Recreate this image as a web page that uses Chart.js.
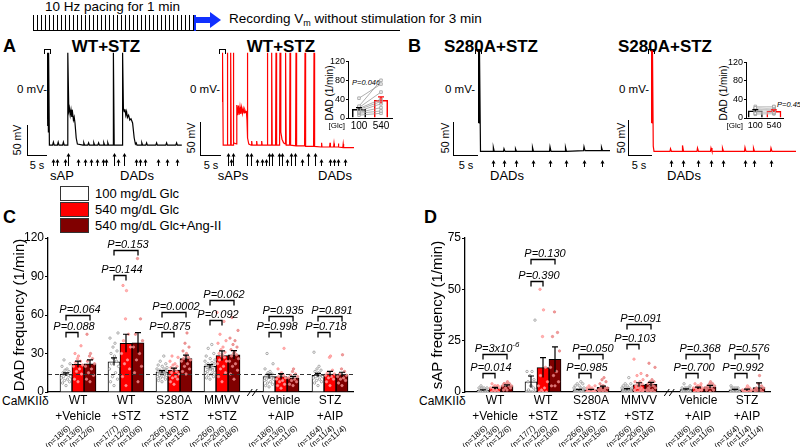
<!DOCTYPE html>
<html lang="en">
<head>
<meta charset="UTF-8">
<title>CaMKIIδ DAD and sAP frequency</title>
<script src="https://cdn.jsdelivr.net/npm/chart.js"></script>
<style>
  body { margin: 0; background: #fff; font-family: "Liberation Sans", Arial, sans-serif; }
  #fig { position: relative; width: 800px; height: 447px; overflow: hidden; background: #fff; }
  canvas { position: absolute; }
  .t { position: absolute; white-space: nowrap; line-height: 1; color: #000; transform: translate(-50%, -50%); }
  .l { position: absolute; white-space: nowrap; line-height: 1; color: #000; transform: translate(0, -50%); }
  .v { position: absolute; white-space: nowrap; line-height: 1; color: #000; transform: translate(-50%, -50%) rotate(-90deg); }
  .b { font-weight: bold; font-size: 17px; }
  .ln { position: absolute; background: #000; }
  .stim { position: absolute; width: 5px; height: 4px; border: 1px solid #000; border-bottom: none; }
  .box { position: absolute; left: 60px; width: 27px; height: 13px; border: 1px solid #333; }
</style>
</head>
<body>
<div id="fig">
  <!-- protocol diagram -->
  <div class="l" style="left:45px;top:7px;font-size:13.5px">10 Hz pacing for 1 min</div>
  <div class="ln" style="left:33px;top:15px;width:162px;height:15px;background:repeating-linear-gradient(to right,#000 0 1px,transparent 1px 4px)"></div>
  <div class="ln" style="left:33px;top:30px;width:367px;height:1px"></div>
  <div class="ln" style="left:194px;top:15px;width:2px;height:16px;background:#1030ff"></div>
  <div class="ln" style="left:195px;top:17px;width:16px;height:6px;background:#1030ff"></div>
  <div style="position:absolute;left:210px;top:12px;width:0;height:0;border-left:11px solid #1030ff;border-top:8px solid transparent;border-bottom:8px solid transparent"></div>
  <div class="l" style="left:229px;top:20px;font-size:13.5px">Recording V<sub style="font-size:9px">m</sub> without stimulation for 3 min</div>

  <!-- panel A / B headers -->
  <div class="l b" style="left:3px;top:46px;font-size:18px">A</div>
  <div class="t b" style="left:106px;top:46px">WT+STZ</div>
  <div class="t b" style="left:281px;top:46px">WT+STZ</div>
  <div class="l b" style="left:408px;top:46px;font-size:18px">B</div>
  <div class="t b" style="left:491px;top:46px">S280A+STZ</div>
  <div class="t b" style="left:665px;top:46px">S280A+STZ</div>

  <div class="stim" style="left:44px;top:49px"></div>
  <div class="stim" style="left:219px;top:49px"></div>
  <div class="stim" style="left:475px;top:49px"></div>
  <div class="stim" style="left:648px;top:49px"></div>

  <div class="l" style="left:17px;top:90px;font-size:11.5px">0 mV-</div>
  <div class="l" style="left:190px;top:90px;font-size:11.5px">0 mV-</div>
  <div class="l" style="left:445px;top:90px;font-size:11.5px">0 mV-</div>
  <div class="l" style="left:619px;top:90px;font-size:11.5px">0 mV-</div>

  <!-- scale bars -->
  <div class="ln" style="left:27px;top:125px;width:1px;height:30px"></div>
  <div class="ln" style="left:27px;top:155px;width:20px;height:1px"></div>
  <div class="ln" style="left:200px;top:122px;width:1px;height:33px"></div>
  <div class="ln" style="left:200px;top:155px;width:21px;height:1px"></div>
  <div class="ln" style="left:453px;top:122px;width:1px;height:33px"></div>
  <div class="ln" style="left:453px;top:155px;width:25px;height:1px"></div>
  <div class="ln" style="left:628px;top:120px;width:1px;height:35px"></div>
  <div class="ln" style="left:628px;top:155px;width:24px;height:1px"></div>
  <div class="v" style="left:17px;top:140px;font-size:10.5px">50 mV</div>
  <div class="v" style="left:191px;top:138px;font-size:10.5px">50 mV</div>
  <div class="v" style="left:445px;top:138px;font-size:10.5px">50 mV</div>
  <div class="v" style="left:621px;top:138px;font-size:10.5px">50 mV</div>
  <div class="t" style="left:37px;top:165px;font-size:11px">5 s</div>
  <div class="t" style="left:211px;top:165px;font-size:11px">5 s</div>
  <div class="t" style="left:466px;top:165px;font-size:11px">5 s</div>
  <div class="t" style="left:639px;top:165px;font-size:11px">5 s</div>

  <div class="t" style="left:62px;top:175px;font-size:13px">sAP</div>
  <div class="t" style="left:137px;top:175px;font-size:13px">DADs</div>
  <div class="t" style="left:233px;top:175px;font-size:13px">sAPs</div>
  <div class="t" style="left:335px;top:175px;font-size:13px">DADs</div>
  <div class="t" style="left:507px;top:175px;font-size:13px">DADs</div>
  <div class="t" style="left:684px;top:175px;font-size:13px">DADs</div>

  <!-- inset labels -->
  <div class="v" style="left:330px;top:93px;font-size:10px">DAD (1/min)</div>
  <div class="l" style="left:352px;top:83px;font-size:7.5px;font-style:italic">P=0.046</div>
  <div class="v" style="left:724px;top:93px;font-size:10px">DAD (1/min)</div>
  <div class="l" style="left:777px;top:105px;font-size:7.5px;font-style:italic">P=0.459</div>

  <!-- panel C / D headers and legend -->
  <div class="l b" style="left:3px;top:217px;font-size:18px">C</div>
  <div class="l b" style="left:424px;top:217px;font-size:18px">D</div>
  <div class="box" style="top:186px;background:#fff"></div>
  <div class="box" style="top:202px;background:#ff0000"></div>
  <div class="box" style="top:218px;background:#800000"></div>
  <div class="l" style="left:95px;top:193px;font-size:13px" id="lg0"></div>
  <div class="l" style="left:95px;top:209px;font-size:13px" id="lg1"></div>
  <div class="l" style="left:95px;top:225px;font-size:13px" id="lg2"></div>
  <div class="l" style="left:2px;top:401px;font-size:12px">CaMKIIδ</div>
  <div class="l" style="left:419px;top:401px;font-size:12px">CaMKIIδ</div>

  <canvas id="trA1" width="135" height="122" style="left:47px;top:50px"></canvas>
  <canvas id="trA2" width="132" height="122" style="left:222px;top:50px"></canvas>
  <canvas id="trB1" width="132" height="122" style="left:478px;top:50px"></canvas>
  <canvas id="trB2" width="145" height="122" style="left:651px;top:50px"></canvas>
  <canvas id="inA" width="80" height="78" style="left:318px;top:55px"></canvas>
  <canvas id="inB" width="72" height="77" style="left:716px;top:56px"></canvas>
  <canvas id="chC" width="360" height="222" style="left:0px;top:225px"></canvas>
  <canvas id="chD" width="360" height="222" style="left:417px;top:225px"></canvas>
</div>

<script>
// ---------- traces (time in s, Vm in mV) ----------
const traceA1 = [[0,62],[0.15,-60],[0.2,62],[0.35,-70],[0.4,62],[0.6,-92],
  [1.4,-92],[1.6,-87],[1.8,-92],[2.6,-92],[2.8,-87],[3.0,-92],[3.9,-92],[4.1,-87],[4.3,-92],
  [5.1,-92],[5.2,62],[5.45,-35],[5.6,-30],[5.8,-42],[6.0,-33],[6.2,-45],[6.4,-38],[6.6,-50],[6.8,-45],[7.0,-55],[7.3,-80],[7.6,-90],
  [9.0,-92],[9.2,-88],[9.4,-92],[10.2,-92],[10.4,-88],[10.6,-92],[11.5,-92],[11.7,-88],[11.9,-92],[12.7,-92],[12.9,-88],[13.1,-92],
  [14.0,-92],[14.2,-88],[14.4,-92],[15.0,-92],[15.2,-88],[15.4,-92],
  [16.5,-92],[16.6,62],[16.8,-92],
  [18.8,-92],[18.9,62],[19.1,-30],[19.3,-36],[19.5,-32],[19.7,-42],[19.9,-36],[20.1,-46],[20.4,-42],[20.7,-50],[21.0,-48],[21.4,-55],[21.8,-80],[22.1,-90],
  [22.3,-88],[22.5,-92],[23.5,-92],[23.7,-88],[23.9,-92],[24.7,-92],[24.9,-88],[25.1,-92],[27.2,-92],[27.4,-88],[27.6,-92],
  [29.7,-92],[29.9,-88],[30.1,-92],[32.2,-92],[32.4,-88],[32.6,-92],[33.7,-92]];
const arrowsA1 = [1.6, 2.6, 4.5, 7.8, 9.5, 10.9, 12.6, 14.1, 14.8, 17.8, 22.3, 23.3, 24.5, 27.8, 30.1, 32.4];
const tallA1 = [5.2, 16.7, 19.2];

const traceA2 = [[0,62],[0.1,-20],[0.15,62],[0.3,-92],
  [1.25,-92],[1.33,62],[1.45,-92],[2.1,-92],[2.17,62],[2.3,-92],[2.75,-92],[2.83,62],[2.95,-88],
  [3.6,-90],[3.7,-25],[3.9,-42],[4.1,-26],[4.3,-41],[4.5,-28],[4.7,-40],[4.9,-29],[5.1,-39],[5.3,-31],[5.5,-38],[5.7,-33],[5.9,-37],[6.1,-36],[6.25,-50],[6.33,62],[6.45,-80],[6.7,-90],
  [7.3,-92],[7.42,-85],[7.55,-92],[8.55,-92],[8.67,-85],[8.8,-92],[9.8,-92],[9.92,-85],[10.05,-92],
  [11.25,-92],[11.33,62],[11.45,-92],[12.35,-92],[12.42,62],[12.55,-92],[13.4,-92],[13.5,62],[13.65,-92],
  [14.4,-92],[14.5,62],[14.7,-70],[15.0,-82],[15.4,-88],[15.8,-90],[15.9,62],[16.05,-92],
  [16.9,-92],[17.0,62],[17.15,-92],[18.4,-93],[18.5,62],[18.65,-93],[20.65,-93],[20.75,62],[20.9,-94],
  [22.9,-94],[23.0,62],[23.15,-94],[24.8,-95],[24.9,-88],[25.0,-95],[26.9,-95],[27.0,-88],[27.1,-95],
  [27.9,-95],[28.0,-89],[28.1,-95],[29.0,-95],[29.1,-89],[29.2,-95],[30.2,-96],[30.3,-90],[30.4,-96],[33.0,-96]];
const arrowsA2 = [2.2, 8.7, 9.9, 11.0, 16.2, 19.9, 24.7, 27.0, 28.0, 29.1, 30.8];
const tallA2 = [1.6, 2.8, 6.2, 7.2, 11.8, 12.4, 14.3, 14.9, 17.2, 18.3, 21.6, 23.3];

const traceB1 = [[0,60],[0.1,-50],[0.15,60],[0.25,-50],[0.3,60],[0.5,-93],
  [3.0,-93],[3.07,-87],[3.25,-93],[5.1,-93],[5.2,-89],[5.4,-93],[7.4,-93],[7.5,-89],[7.7,-93],
  [10.8,-93],[10.9,-87],[11.1,-93],[14.3,-93],[14.4,-86],[14.6,-93],[17.4,-93],[17.5,-87],[17.7,-93],
  [21.1,-92],[21.2,-86],[21.4,-92],[24.6,-92],[24.7,-87],[24.9,-92],[26.4,-92]];
const arrowsB1 = [3.07, 5.2, 7.5, 10.9, 14.4, 17.5, 21.2, 24.7];

const traceB2 = [[0,60],[0.1,-50],[0.15,60],[0.25,-50],[0.3,60],[0.45,-85],[0.6,-93],
  [3.8,-93],[3.9,-89],[4.1,-93],[6.2,-93],[6.3,-84],[6.5,-93],[9.2,-93],[9.3,-88],[9.5,-93],
  [11.9,-93],[12.0,-88],[12.2,-93],[14.2,-93],[14.3,-88],[14.5,-93],[18.7,-93],[18.8,-87],[19.0,-93],
  [20.4,-93],[20.5,-88],[20.7,-93],[23.9,-93],[24.0,-88],[24.2,-93],[29.0,-93]];
const arrowsB2 = [3.9, 6.3, 9.3, 12.0, 14.3, 18.8, 20.5, 24.0];

// ---------- insets: DAD (1/min) at 100 vs 540 mg/dL Glc ----------
const glcLabels = ['100', '540'];
const insetAMeans = [19, 38];
const insetASem = [3, 7];
const insetAPairs = [[42,72],[25,80],[22,55],[20,40],[18,35],[15,30],[12,22],[10,15],[6,10]];
const insetBMeans = [16, 15];
const insetBSem = [2, 2.5];
const insetBPairs = [[22,25],[20,18],[18,22],[25,24],[10,12],[12,10],[16,20],[8,9],[14,16],[20,15]];

// ---------- panels C and D ----------
const condLabels = ['100 mg/dL Glc', '540 mg/dL Glc', '540 mg/dL Glc+Ang-II'];
const groupLabels = [['WT','+Vehicle'],['WT','+STZ'],['S280A','+STZ'],['MMVV','+STZ'],['Vehicle','+AIP'],['STZ','+AIP']];
const nLabels = [['n=18/6','n=13/6','n=12/6'],['n=17/7','n=12/6','n=10/6'],['n=26/6','n=18/6','n=15/6'],
                 ['n=26/6','n=20/6','n=18/6'],['n=18/6','n=13/6','n=11/6'],['n=16/4','n=11/4','n=11/4']];

const dadMean = [[13.7,23.6,15.6,20.0,12.0,13.0],[21.6,38.0,17.0,28.3,12.0,14.0],[22.0,38.4,26.0,29.0,11.0,13.5]];
const dadSem  = [[1.2,3.0,1.0,1.4,1.7,1.5],[2.4,7.0,1.6,3.8,2.3,2.0],[3.0,7.8,2.8,3.3,1.1,1.9]];
const dad100 = [[5,7,8,9,10,11,12,12,13,14,14,15,16,17,18,20,22,25],
  [5,8,10,12,15,18,20,22,24,26,28,30,32,35,38,42,46],
  [8,9,10,11,12,12,13,13,14,14,15,15,15,16,16,16,17,17,18,18,19,20,21,22,24,28],
  [10,11,12,13,14,15,15,16,17,18,18,19,19,20,20,21,22,22,23,24,25,26,28,30,34,37],
  [4,5,6,7,8,9,10,10,11,12,12,13,14,15,16,18,22,30],
  [5,7,8,9,10,11,12,12,13,14,15,16,17,18,20,31]];
const dad540 = [[8,10,14,16,18,20,21,23,24,26,28,30,36],
  [5,12,18,22,25,30,35,40,45,57,79,83],
  [6,8,10,11,12,13,14,15,16,17,18,19,20,21,22,24,27,28],
  [8,12,15,18,20,22,24,25,27,28,29,30,31,33,35,38,40,45,55,62],
  [3,5,6,8,9,10,11,12,13,14,15,18,34],
  [5,8,10,11,12,13,14,15,17,27,28]];
const dadAng = [[8,10,13,15,18,20,22,24,26,28,30,45],
  [8,15,20,25,30,35,40,45,57,104],
  [14,16,18,20,22,24,25,26,27,28,30,32,35,38,46],
  [10,14,17,20,22,24,26,28,29,30,31,33,35,37,40,42,48,58],
  [5,6,8,9,10,11,12,13,14,16,18],
  [5,7,9,10,11,12,13,14,16,18,29]];
const dadInnerP = ['P=0.088','P=0.144','P=0.875','P=0.092','P=0.998','P=0.718'];
const dadOuterP = ['P=0.064','P=0.153','P=0.0002','P=0.062','P=0.935','P=0.891'];
const dadInnerY = [47, 91, 47, 56, 47, 47];
const dadOuterY = [60, 111, 62, 72, 59, 59];
const dadRefLine = 14;

const sapMean = [[0.8,5.0,1.0,1.2,1.2,1.0],[1.8,11.9,1.0,3.5,2.0,1.0],[3.0,15.9,2.3,3.7,2.5,2.2]];
const sapSem  = [[0.3,2.8,0.3,0.4,0.3,0.3],[0.5,4.8,0.3,1.0,0.4,0.4],[0.5,6.1,0.6,1.0,0.7,2.2]];
const sap100 = [[0,0,0,0,0,0,0,0,0,0,1,1,1,2,2,2,2,3],
  [0,0,0,0,0,0,1,1,2,3,3,5,6,8,10,10,35],
  [0,0,0,0,0,0,0,0,0,0,0,0,0,0,1,1,1,1,2,2,2,3,3,4,4,5],
  [0,0,0,0,0,0,0,0,0,0,0,0,0,1,1,1,1,2,2,2,2,3,3,4,4,7],
  [0,0,0,0,0,0,0,0,1,1,1,1,2,2,2,2,3,4],
  [0,0,0,0,0,0,0,1,1,1,1,2,2,2,2,3]];
const sap540 = [[0,0,0,1,1,2,2,2,3,3,3,4,3],
  [0,0,0,1,2,3,5,8,12,27,40,50],
  [0,0,0,0,0,0,0,0,0,1,1,1,1,2,2,2,3,3],
  [0,0,0,0,1,1,1,2,2,2,3,3,4,4,5,5,6,8,9,16],
  [0,0,1,1,1,2,2,2,3,3,3,4,4],
  [0,0,0,0,1,1,1,1,2,2,3]];
const sapAng = [[1,1,2,2,3,3,3,4,4,4,5,4],
  [3,3,5,8,10,12,20,27,29,39],
  [0,0,0,1,1,1,2,2,2,3,3,4,5,6,7],
  [0,0,0,1,1,1,2,2,3,3,4,4,5,5,6,8,12,14],
  [0,1,1,2,2,2,3,3,4,4,5],
  [0,0,0,1,1,1,2,2,3,4,8]];
const sapInnerP = ['P=0.014','P=0.390','P=0.985','P=0.103','P=0.700','P=0.992'];
const sapOuterP = ['P=3x10^-6','P=0.130','P=0.050','P=0.091','P=0.368','P=0.576'];
const sapInnerY = [9.4, 54, 9.4, 23.6, 9.4, 9.4];
const sapOuterY = [18.7, 65, 18.7, 33, 18.7, 18.7];

// layout of the grouped bars (x units: one group = 48 px)
const groupPos = [0, 1, 2, 3, 4.23, 5.25];
const barOff = [-0.25, 0, 0.25];
const pxPerUnit = 48;
const breakAt = 3.63;
const jitterPx = [0,-3.5,3.5,-1.5,1.5,-4.5,4.5,-2.5,2.5,-0.5,0.5,-3,3,-1,1,-4,4,-2,2,-5,5,0.2,-3.8,3.8,-1.8,1.8];
const barFill = ['#ffffff', '#ff0000', '#800000'];
const dotFill = ['rgba(255,255,255,0.6)', 'rgba(255,170,170,0.85)', 'rgba(240,140,140,0.85)'];
const dotEdge = ['#8a8a8a', '#ff8c8c', '#e58080'];
const FONT = '"Liberation Sans", Arial, sans-serif';

Chart.defaults.font.family = FONT;
Chart.defaults.color = '#000';
Chart.defaults.animation = false;

condLabels.forEach((c, i) => document.getElementById('lg' + i).textContent = c);

// arrows under the voltage traces
const arrowPlugin = {
  id: 'evArrows',
  afterDraw(chart, args, o) {
    const {ctx, scales: {x}} = chart;
    ctx.save();
    ctx.strokeStyle = '#000';
    ctx.fillStyle = '#000';
    ctx.lineWidth = 1;
    const draw = (t, tip) => {
      const px = Math.round(x.getPixelForValue(t)) + 0.5;
      ctx.beginPath();
      ctx.moveTo(px, o.base);
      ctx.lineTo(px, tip + 2);
      ctx.stroke();
      ctx.beginPath();
      ctx.moveTo(px, tip);
      ctx.lineTo(px - 2, tip + 3.5);
      ctx.lineTo(px + 2, tip + 3.5);
      ctx.closePath();
      ctx.fill();
    };
    (o.times || []).forEach(t => draw(t, o.tip));
    (o.tall || []).forEach(t => draw(t, o.tallTip));
    ctx.restore();
  }
};

function traceChart(id, pts, color, xmax, ymin, ymax, padBottom, arrows, tall, tip) {
  new Chart(document.getElementById(id), {
    type: 'line',
    data: { datasets: [{
      data: pts.map(p => ({x: p[0], y: p[1]})),
      borderColor: color, borderWidth: 1.2, pointRadius: 0, tension: 0
    }] },
    options: {
      responsive: false, events: [],
      layout: { padding: { top: 0, bottom: padBottom, left: 0, right: 0 } },
      plugins: { legend: { display: false }, tooltip: { enabled: false },
                 evArrows: { times: arrows, tall: tall, tip: tip, tallTip: tip - 6, base: tip + 7 } },
      scales: { x: { type: 'linear', min: 0, max: xmax, display: false },
                y: { min: ymin, max: ymax, display: false } }
    },
    plugins: [arrowPlugin]
  });
}

traceChart('trA1', traceA1, '#000', 33.75, -100, 66.7, 22, arrowsA1, tallA1, 109);
traceChart('trA2', traceA2, '#ff0000', 33, -100, 66.7, 22, arrowsA2, tallA2, 109);
traceChart('trB1', traceB1, '#000', 26.4, -98.5, 60.6, 17, arrowsB1, [], 110);
traceChart('trB2', traceB2, '#ff0000', 29, -98.5, 60.6, 17, arrowsB2, [], 110);

// error bars on inset bars, plus the [Glc] axis tag
const insetErrPlugin = {
  id: 'insetErr',
  afterDatasetsDraw(chart, args, o) {
    const {ctx, chartArea: a, scales: {y}} = chart;
    const meta = chart.getDatasetMeta(0);
    ctx.save();
    ctx.lineWidth = 1.2;
    meta.data.forEach((bar, i) => {
      const top = y.getPixelForValue(o.means[i] + o.sems[i]);
      ctx.strokeStyle = o.colors[i];
      ctx.beginPath();
      ctx.moveTo(bar.x, y.getPixelForValue(o.means[i] - o.sems[i]));
      ctx.lineTo(bar.x, top);
      ctx.moveTo(bar.x - 3, top);
      ctx.lineTo(bar.x + 3, top);
      ctx.stroke();
    });
    ctx.fillStyle = '#000';
    ctx.font = '8px ' + FONT;
    ctx.textAlign = 'right';
    ctx.textBaseline = 'middle';
    ctx.fillText('[Glc]', a.left - 3, a.bottom + 8);
    ctx.restore();
  }
};

function insetChart(id, means, sems, pairs, lineColor, barPct, padRight, tickSize) {
  new Chart(document.getElementById(id), {
    type: 'bar',
    data: {
      labels: glcLabels,
      datasets: [
        { type: 'bar', data: means, backgroundColor: 'rgba(255,255,255,0)', borderColor: ['#000', '#ff0000'],
          borderWidth: 1.5, barPercentage: barPct, categoryPercentage: 1, order: 2 },
        ...pairs.map(p => ({ type: 'line', data: p, borderColor: lineColor, borderWidth: 0.8,
          pointStyle: 'rect', pointRadius: 1.8, pointBackgroundColor: '#fff', pointBorderColor: '#999',
          pointBorderWidth: 0.8, order: 1 }))
      ]
    },
    options: {
      responsive: false, events: [],
      layout: { padding: { top: 6, right: padRight, left: 0, bottom: 0 } },
      plugins: { legend: { display: false }, tooltip: { enabled: false },
                 insetErr: { means: means, sems: sems, colors: ['#000', '#ff0000'] } },
      scales: {
        x: { grid: { display: false, drawTicks: false }, border: { color: '#000', width: 1 },
             ticks: { font: { size: tickSize }, padding: 2, maxRotation: 0, autoSkip: false },
             afterFit: s => { s.height = 15; } },
        y: { min: 0, max: 120, ticks: { stepSize: 40, font: { size: 9 }, padding: 1 },
             grid: { drawOnChartArea: false, tickLength: 2, color: '#000' }, border: { color: '#000', width: 1 },
             afterFit: s => { s.width = 30; } }
      }
    },
    plugins: [insetErrPlugin]
  });
}

insetChart('inA', insetAMeans, insetASem, insetAPairs, '#9a9a9a', 0.64, 6, 10);
insetChart('inB', insetBMeans, insetBSem, insetBPairs, '#c4c4c4', 0.8, 4, 9);

// error bars, significance brackets, reference line, n labels
function drawP(ctx, text, cx, y) {
  ctx.font = 'italic 11px ' + FONT;
  ctx.textBaseline = 'alphabetic';
  ctx.textAlign = 'left';
  const parts = text.split('^');
  const w0 = ctx.measureText(parts[0]).width;
  let w1 = 0;
  if (parts[1]) {
    ctx.font = 'italic 8px ' + FONT;
    w1 = ctx.measureText(parts[1]).width;
    ctx.font = 'italic 11px ' + FONT;
  }
  const x0 = cx - (w0 + w1) / 2;
  ctx.fillText(parts[0], x0, y);
  if (parts[1]) {
    ctx.font = 'italic 8px ' + FONT;
    ctx.fillText(parts[1], x0 + w0, y - 5);
  }
}

const marksPlugin = {
  id: 'marks',
  afterDatasetsDraw(chart, args, o) {
    const {ctx, chartArea: a, scales: {x, y}} = chart;
    ctx.save();
    if (o.refLine != null) {
      const ry = Math.round(y.getPixelForValue(o.refLine)) + 0.5;
      ctx.strokeStyle = '#333';
      ctx.lineWidth = 1;
      ctx.setLineDash([4, 3]);
      ctx.beginPath();
      ctx.moveTo(a.left, ry);
      ctx.lineTo(a.right, ry);
      ctx.stroke();
      ctx.setLineDash([]);
    }
    ctx.strokeStyle = '#000';
    ctx.lineWidth = 1.2;
    o.means.forEach((row, d) => row.forEach((m, g) => {
      const px = x.getPixelForValue(groupPos[g] + barOff[d]);
      const top = y.getPixelForValue(m + o.sems[d][g]);
      const bot = y.getPixelForValue(Math.max(0, m - o.sems[d][g]));
      ctx.beginPath();
      ctx.moveTo(px, bot);
      ctx.lineTo(px, top);
      ctx.moveTo(px - 3, top);
      ctx.lineTo(px + 3, top);
      ctx.stroke();
    }));
    ctx.fillStyle = '#000';
    ctx.lineWidth = 1.3;
    groupPos.forEach((p, g) => {
      [[barOff[1], o.innerY[g], o.innerP[g]], [barOff[2], o.outerY[g], o.outerP[g]]].forEach(([off, v, txt]) => {
        const x1 = x.getPixelForValue(p + barOff[0]);
        const x2 = x.getPixelForValue(p + off);
        const by = Math.round(y.getPixelForValue(v)) + 0.5;
        ctx.beginPath();
        ctx.moveTo(x1, by + 5);
        ctx.lineTo(x1, by);
        ctx.lineTo(x2, by);
        ctx.lineTo(x2, by + 5);
        ctx.stroke();
        drawP(ctx, txt, (x1 + x2) / 2 + 2, by - 3);
      });
    });
    ctx.restore();
  },
  afterDraw(chart, args, o) {
    const {ctx, chartArea: a, scales: {x}} = chart;
    ctx.save();
    // axis break
    const bx = x.getPixelForValue(breakAt);
    ctx.strokeStyle = '#000';
    ctx.lineWidth = 1;
    [-2.5, 2.5].forEach(k => {
      ctx.beginPath();
      ctx.moveTo(bx + k - 2.5, a.bottom + 4);
      ctx.lineTo(bx + k + 2.5, a.bottom - 3);
      ctx.stroke();
    });
    // n labels
    ctx.font = '8px ' + FONT;
    ctx.fillStyle = '#000';
    ctx.textAlign = 'right';
    ctx.textBaseline = 'middle';
    nLabels.forEach((row, g) => row.forEach((lab, d) => {
      const px = x.getPixelForValue(groupPos[g] + barOff[d]);
      ctx.save();
      ctx.translate(px + 3, a.bottom + 35);
      ctx.rotate(-42 * Math.PI / 180);
      ctx.fillText('(' + lab + ')', 0, 0);
      ctx.restore();
    }));
    ctx.restore();
  }
};

function mainChart(id, cfg) {
  const bars = [0, 1, 2].map(d => ({
    type: 'bar',
    data: groupPos.map((p, g) => ({x: p + barOff[d], y: cfg.means[d][g]})),
    backgroundColor: barFill[d], borderColor: '#000', borderWidth: 1,
    barThickness: 12, grouped: false, order: 2
  }));
  const dots = [0, 1, 2].map(d => ({
    type: 'scatter',
    data: cfg.pts[d].flatMap((vals, g) => vals.map((v, k) => ({
      x: groupPos[g] + barOff[d] + jitterPx[k % jitterPx.length] / pxPerUnit, y: v }))),
    pointRadius: 1.2, pointBackgroundColor: dotFill[d], pointBorderColor: dotEdge[d],
    pointBorderWidth: 0.7, order: 1
  }));
  new Chart(document.getElementById(id), {
    type: 'bar',
    data: { datasets: [...bars, ...dots] },
    options: {
      responsive: false, events: [],
      layout: { padding: { top: 13, right: 7, left: 0, bottom: 0 } },
      plugins: { legend: { display: false }, tooltip: { enabled: false },
                 marks: { means: cfg.means, sems: cfg.sems, innerY: cfg.innerY, outerY: cfg.outerY,
                          innerP: cfg.innerP, outerP: cfg.outerP, refLine: cfg.refLine } },
      scales: {
        x: { type: 'linear', min: -0.625, max: 5.729, offset: false,
             grid: { display: false, drawTicks: false }, border: { color: '#000', width: 1.3 },
             afterBuildTicks: s => { s.ticks = groupPos.map(v => ({ value: v })); },
             ticks: { autoSkip: false, maxRotation: 0, minRotation: 0, padding: 1,
                      font: { size: 12, lineHeight: 1.3 }, callback: (v, i) => groupLabels[i] },
             afterFit: s => { s.height = 55; } },
        y: { min: 0, max: cfg.max, ticks: { stepSize: cfg.step, font: { size: 12 }, padding: 1 },
             grid: { drawOnChartArea: false, tickLength: 3, color: '#000' },
             border: { color: '#000', width: 1.3 },
             title: { display: true, text: cfg.title, font: { size: 15 }, padding: { top: cfg.titlePad, bottom: 0 } },
             afterFit: s => { s.width = 48; } }
      }
    },
    plugins: [marksPlugin]
  });
}

mainChart('chC', { means: dadMean, sems: dadSem, pts: [dad100, dad540, dadAng],
  innerY: dadInnerY, outerY: dadOuterY, innerP: dadInnerP, outerP: dadOuterP,
  refLine: dadRefLine, max: 120, step: 30, title: 'DAD frequency (1/min)', titlePad: 11 });
mainChart('chD', { means: sapMean, sems: sapSem, pts: [sap100, sap540, sapAng],
  innerY: sapInnerY, outerY: sapOuterY, innerP: sapInnerP, outerP: sapOuterP,
  refLine: null, max: 75, step: 25, title: 'sAP frequency (1/min)', titlePad: 12 });
</script>
</body>
</html>
